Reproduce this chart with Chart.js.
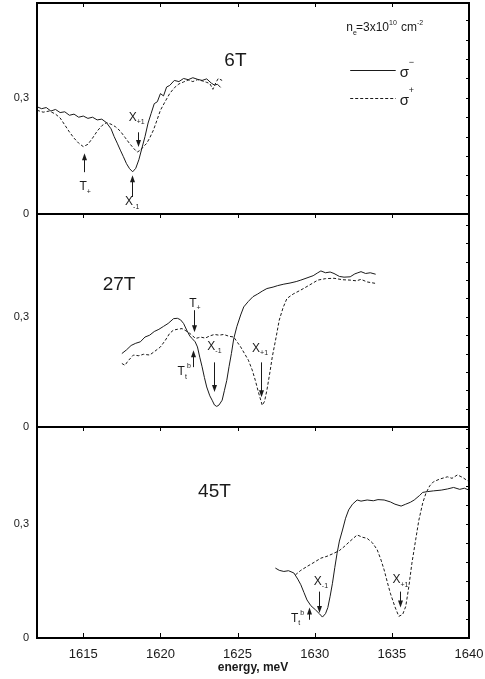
<!DOCTYPE html>
<html>
<head>
<meta charset="utf-8">
<script src="https://cdn.jsdelivr.net/npm/chart.js@4.4.0/dist/chart.umd.min.js"></script>
<style>
  html, body { margin: 0; padding: 0; background: #fff; }
  #wrap { position: relative; width: 485px; height: 679px; }
  #wrap canvas { position: absolute; left: 0; top: 0; }
</style>
</head>
<body>
<div id="wrap">
  <canvas id="c6" width="485" height="679"></canvas>
  <canvas id="c27" width="485" height="679"></canvas>
  <canvas id="c45" width="485" height="679"></canvas>
</div>
<script>
// x range and tick labels (energy, meV)
var energyMin = 1612, energyMax = 1640;
var energyTicks = [1615, 1620, 1625, 1630, 1635, 1640];
var valueTicks = [0, 0.3];

// ---- 6T ----
var e6Minus = [1612.0, 1612.3, 1612.6, 1612.9, 1613.2, 1613.5, 1613.8, 1614.1, 1614.4, 1614.7, 1615.0, 1615.3, 1615.6, 1615.9, 1616.2, 1616.5, 1616.8, 1617.0, 1617.2, 1617.4, 1617.6, 1617.8, 1618.0, 1618.2, 1618.4, 1618.6, 1618.8, 1619.0, 1619.2, 1619.4, 1619.6, 1619.8, 1620.0, 1620.2, 1620.4, 1620.6, 1620.9, 1621.2, 1621.5, 1621.8, 1622.1, 1622.4, 1622.7, 1623.0, 1623.3, 1623.5, 1623.7, 1623.9];
var r6Minus = [0.277, 0.272, 0.275, 0.266, 0.270, 0.262, 0.264, 0.255, 0.258, 0.250, 0.253, 0.247, 0.250, 0.243, 0.245, 0.236, 0.220, 0.200, 0.183, 0.165, 0.148, 0.130, 0.117, 0.109, 0.118, 0.140, 0.170, 0.200, 0.235, 0.260, 0.285, 0.290, 0.311, 0.305, 0.328, 0.332, 0.345, 0.342, 0.350, 0.347, 0.352, 0.348, 0.345, 0.349, 0.338, 0.333, 0.335, 0.327];
var e6Plus = [1612.0, 1612.4, 1612.8, 1613.2, 1613.5, 1613.8, 1614.1, 1614.4, 1614.7, 1615.0, 1615.3, 1615.6, 1615.9, 1616.2, 1616.5, 1616.8, 1617.1, 1617.4, 1617.7, 1618.0, 1618.3, 1618.5, 1618.7, 1618.9, 1619.1, 1619.3, 1619.55, 1619.8, 1620.0, 1620.3, 1620.6, 1620.9, 1621.2, 1621.5, 1621.8, 1622.1, 1622.4, 1622.7, 1623.0, 1623.2, 1623.4, 1623.6, 1623.75, 1624.0];
var r6Plus = [0.268, 0.263, 0.266, 0.258, 0.248, 0.230, 0.212, 0.196, 0.183, 0.174, 0.180, 0.196, 0.214, 0.228, 0.236, 0.232, 0.225, 0.214, 0.198, 0.182, 0.168, 0.160, 0.165, 0.174, 0.182, 0.196, 0.217, 0.245, 0.268, 0.290, 0.311, 0.326, 0.336, 0.341, 0.346, 0.342, 0.347, 0.344, 0.340, 0.337, 0.322, 0.340, 0.350, 0.345];

// ---- 27T ----
var e27Minus = [1617.5, 1617.8, 1618.1, 1618.4, 1618.7, 1619.0, 1619.3, 1619.6, 1619.9, 1620.2, 1620.5, 1620.85, 1621.1, 1621.3, 1621.5, 1621.7, 1621.9, 1622.05, 1622.25, 1622.4, 1622.55, 1622.7, 1622.85, 1623.0, 1623.2, 1623.35, 1623.5, 1623.65, 1623.8, 1624.0, 1624.15, 1624.3, 1624.45, 1624.6, 1624.75, 1624.95, 1625.2, 1625.4, 1625.7, 1626.0, 1626.3, 1626.6, 1626.9, 1627.3, 1627.6, 1628.0, 1628.4, 1628.8, 1629.1, 1629.5, 1629.9, 1630.2, 1630.4, 1630.7, 1631.0, 1631.25, 1631.6, 1631.9, 1632.3, 1632.6, 1632.8, 1633.0, 1633.3, 1633.6, 1633.95];
var r27Minus = [0.200, 0.210, 0.222, 0.228, 0.232, 0.245, 0.250, 0.260, 0.266, 0.274, 0.282, 0.295, 0.296, 0.292, 0.282, 0.264, 0.248, 0.241, 0.232, 0.218, 0.190, 0.164, 0.135, 0.109, 0.085, 0.073, 0.060, 0.056, 0.060, 0.073, 0.100, 0.127, 0.165, 0.200, 0.240, 0.273, 0.305, 0.327, 0.342, 0.355, 0.362, 0.370, 0.377, 0.381, 0.385, 0.389, 0.392, 0.396, 0.400, 0.406, 0.412, 0.420, 0.425, 0.420, 0.422, 0.418, 0.410, 0.408, 0.409, 0.417, 0.420, 0.423, 0.418, 0.420, 0.416];
var e27Plus = [1617.5, 1617.7, 1617.9, 1618.25, 1618.6, 1618.9, 1619.3, 1619.6, 1620.0, 1620.3, 1620.6, 1620.85, 1621.1, 1621.4, 1621.65, 1621.9, 1622.1, 1622.26, 1622.45, 1622.6, 1622.9, 1623.2, 1623.5, 1623.8, 1624.1, 1624.45, 1624.75, 1625.0, 1625.2, 1625.45, 1625.7, 1625.95, 1626.15, 1626.35, 1626.6, 1626.75, 1626.9, 1627.1, 1627.25, 1627.5, 1627.7, 1627.95, 1628.2, 1628.6, 1629.1, 1629.6, 1630.2, 1630.7, 1631.25, 1631.8, 1632.3, 1632.7, 1633.0, 1633.4, 1633.95];
var r27Plus = [0.173, 0.168, 0.180, 0.196, 0.194, 0.198, 0.196, 0.205, 0.218, 0.235, 0.255, 0.264, 0.266, 0.268, 0.262, 0.255, 0.248, 0.241, 0.243, 0.245, 0.242, 0.248, 0.252, 0.250, 0.252, 0.247, 0.245, 0.230, 0.218, 0.200, 0.182, 0.155, 0.127, 0.095, 0.059, 0.070, 0.100, 0.150, 0.191, 0.245, 0.291, 0.325, 0.350, 0.362, 0.373, 0.385, 0.400, 0.404, 0.405, 0.401, 0.400, 0.398, 0.402, 0.395, 0.391];

// ---- 45T ----
var e45Minus = [1627.45, 1627.7, 1628.0, 1628.3, 1628.65, 1628.9, 1629.1, 1629.3, 1629.5, 1629.75, 1630.05, 1630.3, 1630.5, 1630.7, 1630.85, 1631.0, 1631.15, 1631.3, 1631.45, 1631.6, 1631.8, 1632.0, 1632.2, 1632.45, 1632.75, 1633.0, 1633.4, 1633.8, 1634.1, 1634.5, 1634.9, 1635.2, 1635.6, 1635.9, 1636.2, 1636.45, 1636.8, 1637.0, 1637.3, 1637.7, 1638.2, 1638.6, 1639.0, 1639.4, 1639.7, 1640.0];
var r45Minus = [0.184, 0.178, 0.175, 0.177, 0.171, 0.155, 0.140, 0.120, 0.100, 0.085, 0.074, 0.064, 0.055, 0.064, 0.080, 0.110, 0.144, 0.185, 0.223, 0.255, 0.284, 0.315, 0.337, 0.352, 0.363, 0.360, 0.363, 0.361, 0.364, 0.363, 0.358, 0.352, 0.347, 0.352, 0.357, 0.363, 0.375, 0.383, 0.385, 0.387, 0.389, 0.392, 0.396, 0.391, 0.394, 0.389];
var e45Plus = [1628.75, 1629.1, 1629.5, 1630.0, 1630.4, 1630.8, 1631.25, 1631.6, 1631.9, 1632.3, 1632.75, 1633.1, 1633.4, 1633.75, 1634.05, 1634.3, 1634.5, 1634.7, 1634.9, 1635.2, 1635.45, 1635.7, 1635.9, 1636.1, 1636.3, 1636.55, 1636.75, 1637.0, 1637.2, 1637.45, 1637.7, 1638.1, 1638.6, 1638.9, 1639.25, 1639.6, 1640.0];
var r45Plus = [0.166, 0.178, 0.188, 0.200, 0.210, 0.215, 0.223, 0.230, 0.240, 0.255, 0.271, 0.265, 0.262, 0.250, 0.232, 0.205, 0.179, 0.148, 0.118, 0.082, 0.057, 0.062, 0.083, 0.135, 0.197, 0.260, 0.310, 0.355, 0.380, 0.400, 0.411, 0.418, 0.424, 0.420, 0.429, 0.422, 0.411];

// labels and arrows, anchored in data units
var notes6 = [
  { main: '6T', x: 1624.86, y: 0.397, size: 19 },
  { main: 'T', sub: '+', x: 1614.99, y: 0.070 },
  { main: 'X', sub: '-1', x: 1617.97, y: 0.031 },
  { main: 'X', sub: '+1', x: 1618.20, y: 0.250 }
];
var arrows6 = [
  { x: 1615.05, from: 0.108, to: 0.157 },
  { x: 1618.17, from: 0.044, to: 0.100 },
  { x: 1618.56, from: 0.211, to: 0.173 }
];
var notes27 = [
  { main: '27T', x: 1617.32, y: 0.388, size: 19 },
  { main: 'T', sub: '+', x: 1622.10, y: 0.336 },
  { main: 'T', sub: 't', sup: 'b', x: 1621.35, y: 0.150 },
  { main: 'X', sub: '-1', x: 1623.30, y: 0.220 },
  { main: 'X', sub: '+1', x: 1626.20, y: 0.214 }
];
var arrows27 = [
  { x: 1622.20, from: 0.318, to: 0.258 },
  { x: 1622.13, from: 0.163, to: 0.209 },
  { x: 1623.50, from: 0.176, to: 0.095 },
  { x: 1626.55, from: 0.176, to: 0.081 }
];
var notes45 = [
  { main: '45T', x: 1623.50, y: 0.385, size: 19 },
  { main: 'X', sub: '-1', x: 1630.20, y: 0.149 },
  { main: 'T', sub: 't', sup: 'b', x: 1628.70, y: 0.051 },
  { main: 'X', sub: '+1', x: 1635.30, y: 0.153 }
];
var arrows45 = [
  { x: 1630.30, from: 0.122, to: 0.066 },
  { x: 1629.60, from: 0.048, to: 0.080 },
  { x: 1635.50, from: 0.122, to: 0.080 }
];

var FONT = "'Liberation Sans', Arial, sans-serif";
var INK = '#1a1a1a';

function toPoints(xs, ys) {
  return xs.map(function (x, i) { return { x: x, y: ys[i] }; });
}

function drawRich(ctx, n, px, py) {
  var size = n.size || 12;
  ctx.font = size + 'px ' + FONT;
  ctx.textAlign = 'center';
  ctx.textBaseline = 'middle';
  ctx.fillText(n.main, px, py);
  var w = ctx.measureText(n.main).width;
  ctx.textAlign = 'left';
  ctx.font = Math.round(size * 0.62) + 'px ' + FONT;
  if (n.sub) ctx.fillText(n.sub, px + w / 2, py + size * 0.4);
  if (n.sup) ctx.fillText(n.sup, px + w / 2 + 2, py - size * 0.45);
}

// frame, inner ticks, labels and arrows
var panelDecor = {
  id: 'panelDecor',
  afterDraw: function (chart) {
    var o = chart.options.plugins.panelDecor;
    var ctx = chart.ctx, a = chart.chartArea;
    var xs = chart.scales.x, ys = chart.scales.y;
    ctx.save();
    ctx.strokeStyle = '#000';
    ctx.lineWidth = 1;
    // top ticks
    energyTicks.forEach(function (t) {
      if (t >= energyMax) return;
      var px = Math.round(xs.getPixelForValue(t)) + 0.5;
      ctx.beginPath(); ctx.moveTo(px, a.top); ctx.lineTo(px, a.top + 4); ctx.stroke();
      if (o.bottomTicks) {
        ctx.beginPath(); ctx.moveTo(px, a.bottom); ctx.lineTo(px, a.bottom - 5); ctx.stroke();
      }
    });
    // right minor ticks
    for (var v = 0.05; v < ys.max; v += 0.05) {
      var py = Math.round(ys.getPixelForValue(v)) + 0.5;
      ctx.beginPath(); ctx.moveTo(a.right, py); ctx.lineTo(a.right - 3, py); ctx.stroke();
    }
    // frame
    ctx.lineWidth = 2;
    ctx.strokeRect(a.left, a.top, a.right - a.left, a.bottom - a.top);

    ctx.fillStyle = INK;
    ctx.strokeStyle = INK;
    ctx.lineWidth = 1;
    o.arrows.forEach(function (ar) {
      var px = Math.round(xs.getPixelForValue(ar.x)) + 0.5;
      var y1 = ys.getPixelForValue(ar.from), y2 = ys.getPixelForValue(ar.to);
      var dir = y2 > y1 ? 1 : -1;
      ctx.beginPath(); ctx.moveTo(px, y1); ctx.lineTo(px, y2 - dir * 5); ctx.stroke();
      ctx.beginPath();
      ctx.moveTo(px, y2);
      ctx.lineTo(px - 2.5, y2 - dir * 7);
      ctx.lineTo(px + 2.5, y2 - dir * 7);
      ctx.closePath(); ctx.fill();
    });
    o.notes.forEach(function (n) {
      drawRich(ctx, n, xs.getPixelForValue(n.x), ys.getPixelForValue(n.y));
    });

    if (o.legend) {
      var lx1 = xs.getPixelForValue(1632.3), lx2 = xs.getPixelForValue(1635.25);
      var ly1 = Math.round(ys.getPixelForValue(0.373)) + 0.5;
      var ly2 = Math.round(ys.getPixelForValue(0.300)) + 0.5;
      ctx.beginPath(); ctx.moveTo(lx1, ly1); ctx.lineTo(lx2, ly1); ctx.stroke();
      ctx.setLineDash([3, 2]);
      ctx.beginPath(); ctx.moveTo(lx1, ly2); ctx.lineTo(lx2, ly2); ctx.stroke();
      ctx.setLineDash([]);
      ctx.textAlign = 'left'; ctx.textBaseline = 'middle';
      ctx.font = '15px ' + FONT;
      ctx.fillText('σ', lx2 + 4, ly1 + 2);
      ctx.fillText('σ', lx2 + 4, ly2 + 2);
      ctx.font = '9px ' + FONT;
      ctx.fillText('\u2212', lx2 + 13, ly1 - 8);
      ctx.fillText('+', lx2 + 13, ly2 - 8);
      // density label
      var nx = xs.getPixelForValue(1632.05), ny = ys.getPixelForValue(0.48);
      ctx.font = '12px ' + FONT;
      ctx.fillText('n', nx, ny);
      var w = ctx.measureText('n').width;
      ctx.font = '7px ' + FONT;
      ctx.fillText('e', nx + w, ny + 5);
      ctx.font = '12px ' + FONT;
      var s1 = '=3x10';
      ctx.fillText(s1, nx + w + 3, ny);
      var w1 = ctx.measureText(s1).width;
      ctx.font = '7px ' + FONT;
      ctx.fillText('10', nx + w + 3 + w1, ny - 5);
      ctx.font = '12px ' + FONT;
      ctx.fillText('cm', nx + w + 3 + w1 + 12, ny);
      var w2 = ctx.measureText('cm').width;
      ctx.font = '7px ' + FONT;
      ctx.fillText('-2', nx + w + 3 + w1 + 12 + w2, ny - 5);
    }
    ctx.restore();
  }
};

function makePanel(id, minusX, minusY, plusX, plusY, yMax, pad, opts) {
  var showX = !!opts.showX;
  return new Chart(document.getElementById(id), {
    type: 'line',
    data: {
      datasets: [
        { label: 'σ−', data: toPoints(minusX, minusY), borderColor: INK, borderWidth: 1, pointRadius: 0, tension: 0 },
        { label: 'σ+', data: toPoints(plusX, plusY), borderColor: INK, borderWidth: 1, borderDash: [3, 2], pointRadius: 0, tension: 0 }
      ]
    },
    options: {
      responsive: false,
      animation: false,
      events: [],
      layout: { padding: { top: pad.top, bottom: pad.bottom, left: 0, right: 16 } },
      plugins: {
        legend: { display: false },
        tooltip: { enabled: false },
        panelDecor: { notes: opts.notes, arrows: opts.arrows, legend: !!opts.legend, bottomTicks: showX }
      },
      scales: {
        x: {
          type: 'linear',
          min: energyMin,
          max: energyMax,
          display: showX,
          afterBuildTicks: function (s) { s.ticks = energyTicks.map(function (v) { return { value: v }; }); },
          afterFit: function (s) {
            if (showX) s.height = 41;
            s.paddingLeft = 0; s.paddingRight = 0;
          },
          grid: { display: false, drawTicks: false },
          border: { display: false },
          ticks: { color: INK, padding: 9, font: { family: FONT, size: 13 }, maxRotation: 0, callback: function (v) { return String(v); } },
          title: { display: true, text: 'energy, meV', color: INK, padding: { top: 0, bottom: 4 }, font: { family: FONT, size: 12, weight: 'bold' } }
        },
        y: {
          min: 0,
          max: yMax,
          afterBuildTicks: function (s) { s.ticks = valueTicks.map(function (v) { return { value: v }; }); },
          afterFit: function (s) {
            s.width = 37;
            s.paddingTop = 0; s.paddingBottom = 0;
          },
          grid: { display: false, drawTicks: false },
          border: { display: false },
          ticks: { color: INK, padding: 8, font: { family: FONT, size: 11 }, callback: function (v) { return String(v).replace('.', ','); } }
        }
      }
    },
    plugins: [panelDecor]
  });
}

makePanel('c6', e6Minus, r6Minus, e6Plus, r6Plus, 0.545, { top: 3, bottom: 465 }, { notes: notes6, arrows: arrows6, legend: true });
makePanel('c27', e27Minus, r27Minus, e27Plus, r27Plus, 0.58, { top: 214, bottom: 252 }, { notes: notes27, arrows: arrows27 });
makePanel('c45', e45Minus, r45Minus, e45Plus, r45Plus, 0.555, { top: 427, bottom: 0 }, { notes: notes45, arrows: arrows45, showX: true });
</script>
</body>
</html>
